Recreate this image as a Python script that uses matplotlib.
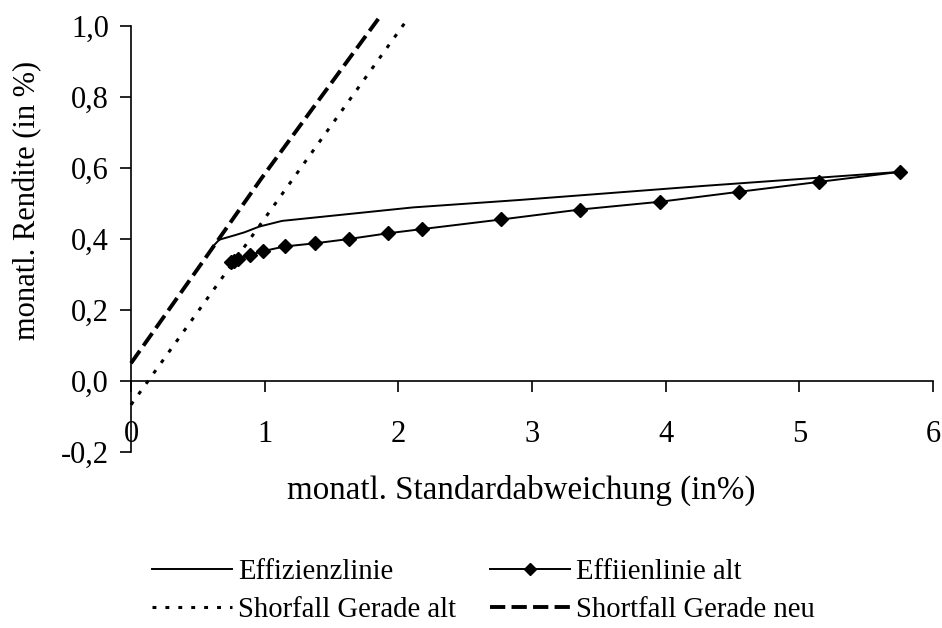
import matplotlib
matplotlib.use("Agg")
import matplotlib.pyplot as plt

plt.rcParams['font.family'] = ['Liberation Serif', 'DejaVu Serif']
plt.rcParams['lines.scale_dashes'] = False

# Effizienzlinie (solid, no markers)
eff_x = [0.61, 0.66, 0.78, 0.85, 0.96, 1.13, 2.11, 2.91, 4.30, 5.75]
eff_y = [0.378, 0.398, 0.411, 0.419, 0.435, 0.451, 0.489, 0.510, 0.550, 0.589]

# Effiienlinie alt (diamonds)
alt_x = [0.75, 0.77, 0.80, 0.89, 0.99, 1.15, 1.38, 1.63, 1.92, 2.18, 2.77, 3.36, 3.96, 4.55, 5.15, 5.75]
alt_y = [0.335, 0.339, 0.344, 0.355, 0.366, 0.379, 0.388, 0.400, 0.416, 0.428, 0.455, 0.483, 0.505, 0.533, 0.561, 0.589]

# Shorfall Gerade alt (dotted)
sga_x = [0.0, 0.86, 1.38, 2.07]
sga_y = [-0.067, 0.384, 0.658, 1.02]

# Shortfall Gerade neu (dashed)
sgn_x = [0.0, 0.61, 0.98, 1.85]
sgn_y = [0.05, 0.375, 0.573, 1.02]

xticks = [0, 1, 2, 3, 4, 5, 6]
yticks = [-0.2, 0.0, 0.2, 0.4, 0.6, 0.8, 1.0]
ytick_labels = ['-0,2', '0,0', '0,2', '0,4', '0,6', '0,8', '1,0']

fig = plt.figure(figsize=(9.42, 6.28), dpi=100)
ax = fig.add_axes([131/942, 1-452/628, (933-131)/942, (452-26)/628])

l1, = ax.plot(eff_x, eff_y, color='black', lw=1.4, label='Effizienzlinie', clip_on=False)
l2, = ax.plot(alt_x, alt_y, color='black', lw=1.4, marker='D', markersize=7,
              label='Effiienlinie alt', clip_on=False)
l3, = ax.plot(sga_x, sga_y, color='black', lw=2.2, linestyle=(0, (2.8, 6.5)),
              label='Shorfall Gerade alt', clip_on=False)
l4, = ax.plot(sgn_x, sgn_y, color='black', lw=2.8, linestyle=(0, (11, 4.5)),
              label='Shortfall Gerade neu', clip_on=False)

ax.set_xlim(0, 6)
ax.set_ylim(-0.2, 1.0)
ax.spines['top'].set_visible(False)
ax.spines['right'].set_visible(False)
ax.spines['bottom'].set_position(('data', 0))
ax.spines['left'].set_linewidth(1.2)
ax.spines['bottom'].set_linewidth(1.2)

ax.set_xticks(xticks)
ax.set_xticklabels([str(t) for t in xticks])
ax.set_yticks(yticks)
ax.set_yticklabels(ytick_labels)
ax.tick_params(axis='x', direction='out', length=8, width=1.2, pad=20, labelsize=22)
ax.tick_params(axis='y', direction='out', length=8, width=1.2, pad=8, labelsize=22)

fig.text(521/942, 1-490/628, 'monatl. Standardabweichung (in%)', ha='center', va='center', fontsize=23.8)
fig.text(28/942, 1-200/628, 'monatl. Rendite (in %)', ha='center', va='center',
         rotation=90, fontsize=22)

leg = fig.legend([l1, l3, l2, l4],
                 ['Effizienzlinie', 'Shorfall Gerade alt', 'Effiienlinie alt', 'Shortfall Gerade neu'],
                 ncol=2, loc='upper left', bbox_to_anchor=(152/942, 1-559/628),
                 frameon=False, fontsize=20.6, handlelength=2.8, handletextpad=0.2,
                 columnspacing=1.2, labelspacing=0.42, borderpad=0, borderaxespad=0,
                 numpoints=1, markerscale=0.85)

fig.savefig('out.png', dpi=100)
